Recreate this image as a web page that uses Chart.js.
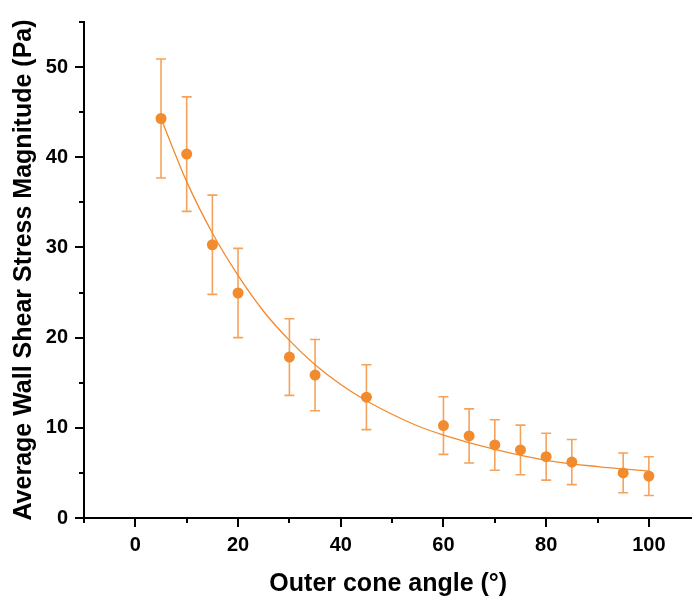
<!DOCTYPE html>
<html>
<head>
<meta charset="utf-8">
<script src="https://cdn.jsdelivr.net/npm/chart.js@4/dist/chart.umd.min.js"></script>
<style>
  html, body { margin: 0; padding: 0; background: #ffffff; overflow: hidden; }
  #wrap { width: 698px; height: 601px; position: relative; }
</style>
</head>
<body>
<div id="wrap"><canvas id="chart"></canvas></div>
<script>
// Outer cone angle (degrees) and the measured mean wall shear stress (Pa)
const angles      = [5, 10, 15, 20, 30, 35, 45, 60, 65, 70, 75, 80, 85, 95, 100];
const meanStress  = [44.3, 40.35, 30.3, 24.95, 17.85, 15.85, 13.4, 10.25, 9.1, 8.1, 7.55, 6.8, 6.2, 5.0, 4.65];
const stressError = [6.6, 6.35, 5.5, 4.95, 4.25, 3.95, 3.6, 3.2, 3.0, 2.8, 2.75, 2.6, 2.5, 2.2, 2.15];

// Exponential decay fit line, sampled along the angle range
const fitAngles = [5, 10, 15, 20, 25, 30, 35, 40, 45, 50, 55, 60, 70, 80, 90, 100];
const fitStress = [44.3, 37.3, 31.6, 26.9, 22.9, 19.7, 17.0, 14.8, 13.0, 11.5, 10.2, 9.2, 7.6, 6.4, 5.7, 5.2];

// Axis tick values
const xMajorTicks = [0, 20, 40, 60, 80, 100];
const xMinorTicks = [-10, 10, 30, 50, 70, 90];
const yMajorTicks = [0, 10, 20, 30, 40, 50];
const yMinorTicks = [5, 15, 25, 35, 45, 55];

const POINT_COLOR = '#F28A2E';
const ERROR_COLOR = '#F5A35C';
const FONT = "'Liberation Sans', Arial, sans-serif";

// Vertical error bars with caps, drawn beneath the points
const errorBars = {
  id: 'errorBars',
  beforeDatasetsDraw(chart) {
    const { ctx, scales: { x, y } } = chart;
    ctx.save();
    ctx.strokeStyle = ERROR_COLOR;
    ctx.lineWidth = 1.6;
    const cap = 5;
    angles.forEach((a, i) => {
      const px = x.getPixelForValue(a);
      const top = y.getPixelForValue(meanStress[i] + stressError[i]);
      const bot = y.getPixelForValue(meanStress[i] - stressError[i]);
      ctx.beginPath();
      ctx.moveTo(px, top); ctx.lineTo(px, bot);
      ctx.moveTo(px - cap, top); ctx.lineTo(px + cap, top);
      ctx.moveTo(px - cap, bot); ctx.lineTo(px + cap, bot);
      ctx.stroke();
    });
    ctx.restore();
  }
};

// Outward major/minor tick marks on both axes
const tickMarks = {
  id: 'tickMarks',
  afterDraw(chart) {
    const { ctx, scales: { x, y } } = chart;
    ctx.save();
    ctx.strokeStyle = '#000';
    ctx.lineWidth = 2;
    const xb = y.right;
    const yb = x.top;
    const drawX = (v, len) => {
      const px = Math.round(x.getPixelForValue(v));
      ctx.beginPath(); ctx.moveTo(px, yb); ctx.lineTo(px, yb + len); ctx.stroke();
    };
    const drawY = (v, len) => {
      const py = Math.round(y.getPixelForValue(v));
      ctx.beginPath(); ctx.moveTo(xb, py); ctx.lineTo(xb - len, py); ctx.stroke();
    };
    xMajorTicks.forEach(v => drawX(v, 9));
    xMinorTicks.forEach(v => drawX(v, 5));
    yMajorTicks.forEach(v => drawY(v, 9));
    yMinorTicks.forEach(v => drawY(v, 5));
    ctx.restore();
  }
};

new Chart(document.getElementById('chart'), {
  type: 'scatter',
  data: {
    datasets: [
      {
        label: 'Fit',
        data: fitAngles.map((a, i) => ({ x: a, y: fitStress[i] })),
        showLine: true,
        borderColor: POINT_COLOR,
        borderWidth: 1.3,
        pointRadius: 0,
        cubicInterpolationMode: 'monotone',
        order: 2
      },
      {
        label: 'Average Wall Shear Stress',
        data: angles.map((a, i) => ({ x: a, y: meanStress[i] })),
        backgroundColor: POINT_COLOR,
        borderColor: POINT_COLOR,
        pointRadius: 5.5,
        borderWidth: 0,
        order: 1
      }
    ]
  },
  options: {
    responsive: true,
    maintainAspectRatio: false,
    animation: false,
    layout: { padding: { top: 22, right: 0, left: 0, bottom: 0 } },
    plugins: { legend: { display: false }, tooltip: { enabled: false } },
    scales: {
      x: {
        type: 'linear',
        min: -10,
        max: 108.5,
        afterBuildTicks(scale) { scale.ticks = xMajorTicks.map(v => ({ value: v })); },
        afterFit(scale) {
          scale.height = 83;
          scale.paddingLeft = 0;
          scale.paddingRight = 0;
        },
        grid: { display: true, drawOnChartArea: false, drawTicks: true, tickLength: 15, tickColor: 'rgba(0,0,0,0)' },
        border: { display: true, color: '#000', width: 2 },
        ticks: {
          color: '#000',
          padding: 0,
          maxRotation: 0,
          font: { family: FONT, size: 20, weight: 'bold' }
        },
        title: {
          display: true,
          text: 'Outer cone angle (°)',
          color: '#000',
          padding: { top: 0, bottom: 2 },
          font: { family: FONT, size: 25, weight: 'bold' }
        }
      },
      y: {
        type: 'linear',
        min: 0,
        max: 55,
        afterBuildTicks(scale) { scale.ticks = yMajorTicks.map(v => ({ value: v })); },
        afterFit(scale) {
          scale.width = 84;
          scale.paddingTop = 0;
          scale.paddingBottom = 0;
        },
        grid: { display: true, drawOnChartArea: false, drawTicks: true, tickLength: 16, tickColor: 'rgba(0,0,0,0)' },
        border: { display: true, color: '#000', width: 2 },
        ticks: {
          color: '#000',
          padding: 0,
          font: { family: FONT, size: 20, weight: 'bold' }
        },
        title: {
          display: true,
          text: 'Average Wall Shear Stress Magnitude (Pa)',
          color: '#000',
          padding: { top: 9, bottom: 0 },
          font: { family: FONT, size: 25, weight: 'bold' }
        }
      }
    }
  },
  plugins: [errorBars, tickMarks]
});
</script>
</body>
</html>
